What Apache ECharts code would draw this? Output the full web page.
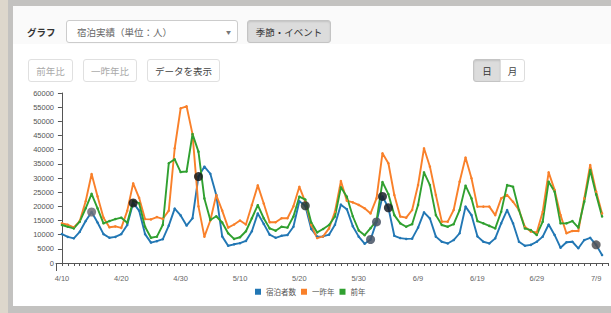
<!DOCTYPE html>
<html lang="ja">
<head>
<meta charset="utf-8">
<script src="https://cdn.jsdelivr.net/npm/echarts@6/dist/echarts.min.js"></script>
<style>
  body { margin: 0; width: 611px; height: 313px; overflow: hidden; position: relative;
         background: #ddd7cc; font-family: "Noto Sans CJK JP", sans-serif; }
  .frame { position: absolute; left: 8px; top: 0; right: 0; bottom: 0; background: #c3c2c0; }
  .panel { position: absolute; left: 13px; top: 6px; right: 0; bottom: 7px; background: #fff; }
  .toolbar { position: absolute; left: 13px; top: 6px; right: 0; height: 38px; background: #fafafa; }
  .ui { position: absolute; box-sizing: border-box; display: flex; align-items: center;
        justify-content: center; font-size: 9.5px; border: 1px solid #e0e0e0; border-radius: 3px;
        background: #fff; color: #444; white-space: nowrap; }
  .label { position: absolute; font-size: 9.5px; font-weight: bold; color: #333; }
  .pressed { background: #dcdcdc; border-color: #c4c4c4; box-shadow: inset 0 1px 2px rgba(0,0,0,0.12); }
  .off { color: #aaa; }
  #chart { position: absolute; left: 0; top: 0; width: 611px; height: 313px; }
</style>
</head>
<body>
<div class="frame"></div>
<div class="panel"></div>
<div class="toolbar"></div>

<div class="label" style="left:27px; top:25px;">グラフ</div>
<div class="ui" style="left:66px; top:20px; width:172px; height:23px; justify-content:space-between; padding:0 6px 0 10px; border-color:#ccc; color:#666;">
  <span>宿泊実績（単位：人）</span><span style="font-size:5px; color:#777;">▼</span>
</div>
<div class="ui pressed" style="left:247px; top:20px; width:84px; height:23px; color:#333;">季節・イベント</div>

<div class="ui off" style="left:28px; top:59px; width:45px; height:23px;">前年比</div>
<div class="ui off" style="left:83px; top:59px; width:54px; height:23px;">一昨年比</div>
<div class="ui" style="left:147px; top:59px; width:73px; height:23px;">データを表示</div>
<div class="ui pressed" style="left:473px; top:59px; width:28px; height:23px; border-radius:3px 0 0 3px; color:#333;">日</div>
<div class="ui" style="left:500px; top:59px; width:25px; height:23px; border-radius:0 3px 3px 0; border-color:#ddd;">月</div>

<div id="chart"></div>

<script>
// 4/10 - 7/10, one point per day
const dates = [
  '4/10','4/11','4/12','4/13','4/14','4/15','4/16','4/17','4/18','4/19','4/20','4/21','4/22','4/23','4/24','4/25','4/26','4/27','4/28','4/29','4/30',
  '5/1','5/2','5/3','5/4','5/5','5/6','5/7','5/8','5/9','5/10','5/11','5/12','5/13','5/14','5/15','5/16','5/17','5/18','5/19','5/20',
  '5/21','5/22','5/23','5/24','5/25','5/26','5/27','5/28','5/29','5/30','5/31',
  '6/1','6/2','6/3','6/4','6/5','6/6','6/7','6/8','6/9','6/10','6/11','6/12','6/13','6/14','6/15','6/16','6/17','6/18','6/19','6/20',
  '6/21','6/22','6/23','6/24','6/25','6/26','6/27','6/28','6/29','6/30',
  '7/1','7/2','7/3','7/4','7/5','7/6','7/7','7/8','7/9','7/10'
];

// 宿泊者数
const stay = [
  10200, 9200, 8700, 11000, 14800, 18000, 14300, 10200, 8900, 9200,
  10200, 13400, 21200, 18500, 10200, 7200, 7700, 8400, 13200, 19200,
  16800, 13200, 15800, 30500, 34000, 31500, 24000, 9400, 6100, 6600,
  7000, 7800, 11200, 17500, 13800, 10000, 8900, 9600, 9900, 12800,
  21800, 20200, 12000, 9300, 9400, 10000, 13500, 20600, 19000, 13000,
  9300, 6800, 8300, 14500, 23500, 19500, 9600, 8800, 8500, 8600,
  12500, 17900, 15700, 9300, 7500, 6900, 8100, 10500, 19900, 16900,
  9400, 7500, 6900, 8700, 14000, 18700, 14000, 7500, 6100, 6400,
  7500, 9300, 13600, 9900, 5400, 7300, 7500, 5200, 8100, 8900,
  6400, 2800
];

// 一昨年
const twoYearsAgo = [
  14000, 13500, 12600, 14800, 21800, 31400, 23500, 16000, 12600, 12900,
  12400, 18400, 28100, 23000, 15500, 15400, 16200, 15600, 18500, 40500,
  54600, 55300, 45500, 20000, 9300, 15000, 24000, 18500, 12500, 13600,
  15000, 13600, 20500, 27400, 21000, 14400, 14400, 15800, 15800, 20000,
  26900, 21600, 13400, 8800, 9400, 12200, 18100, 28900, 22000, 21400,
  20500, 19300, 17500, 22800, 38700, 35200, 24000, 16400, 16000, 18700,
  27500, 40500, 34000, 24000, 14600, 14600, 18700, 28700, 37200, 29900,
  19900, 19900, 19900, 16900, 22800, 24000, 21600, 18700, 12800, 11100,
  10800, 18100, 32000, 25800, 16900, 10500, 11300, 11300, 22800, 34600,
  25200, 17500
];

// 前年
const lastYear = [
  13400, 12800, 12200, 14600, 19300, 24400, 19300, 14000, 14800, 15500,
  16000, 14200, 21900, 21100, 12800, 8900, 9300, 13500, 35200, 36600,
  32100, 32300, 45500, 39300, 22800, 15200, 16500, 14300, 10500, 8500,
  9100, 11200, 15800, 20400, 15800, 12200, 11400, 12800, 12500, 16400,
  23400, 22400, 14300, 10800, 12000, 13400, 16400, 26700, 23400, 16500,
  11500, 9800, 12300, 14900, 28600, 24300, 16900, 14000, 12800, 13700,
  20500, 32000, 27500, 16900, 13400, 12800, 13700, 18700, 27300, 22800,
  14800, 14000, 13100, 12200, 18100, 27500, 26900, 18700, 12200, 11600,
  9900, 14600, 28700, 25200, 14000, 14000, 14800, 12500, 21600, 32800,
  24200, 16400
];

// days with a season / event marker (drawn on 宿泊者数)
const eventDays = [5, 12, 23, 41, 52, 53, 54, 55, 90];
const eventColors = ['#6c6c76', '#1a1a1a', '#1a1a1a', '#2e3a34', '#465264', '#465264', '#1a2029', '#1a2029', '#505054'];

const numFont = '"Liberation Sans", Arial, sans-serif';
const jpFont = '"Noto Sans CJK JP", sans-serif';

const chart = echarts.init(document.getElementById('chart'), null, { renderer: 'svg' });

function lineSeries(name, values, color) {
  return {
    name: name,
    type: 'line',
    data: values.map((v, i) => [i, v]),
    symbol: 'circle',
    symbolSize: 2.5,
    showSymbol: true,
    lineStyle: { width: 1.9, color: color },
    itemStyle: { color: color },
    emphasis: { disabled: true }
  };
}

const option = {
  animation: false,
  grid: { left: 56, right: 1, top: 93, bottom: 50 },
  xAxis: {
    type: 'value',
    min: -1,
    max: 92,
    interval: 1,
    offset: 8,
    axisLine: { lineStyle: { color: '#555' } },
    axisTick: { length: 3, lineStyle: { color: '#555' } },
    axisLabel: {
      formatter: v => (v >= 0 && v % 10 === 0 && dates[v]) ? dates[v] : '',
      fontSize: 7.5, color: '#666', margin: 3, fontFamily: numFont
    },
    splitLine: { show: false }
  },
  yAxis: {
    type: 'value',
    min: 0,
    max: 60000,
    interval: 5000,
    axisLine: { show: true, lineStyle: { color: '#555' } },
    axisTick: { show: true, length: 4, lineStyle: { color: '#555' } },
    axisLabel: { formatter: v => String(v), fontSize: 7.5, color: '#555', margin: 2, fontFamily: numFont },
    splitLine: { show: false }
  },
  legend: {
    data: ['宿泊者数', '一昨年', '前年'],
    left: 255,
    top: 288,
    padding: 0,
    icon: 'rect',
    itemWidth: 6,
    itemHeight: 6,
    itemGap: 5,
    textStyle: { fontSize: 7.5, color: '#555', fontFamily: jpFont }
  },
  // the y axis line runs down to the offset x axis
  graphic: [{
    type: 'line',
    shape: { x1: 56.5, y1: 263, x2: 56.5, y2: 271 },
    style: { stroke: '#555', lineWidth: 1 },
    silent: true
  }],
  series: [
    lineSeries('宿泊者数', stay, '#2277b4'),
    lineSeries('一昨年', twoYearsAgo, '#f9802a'),
    lineSeries('前年', lastYear, '#30a030'),
    {
      name: 'イベント',
      type: 'scatter',
      symbolSize: 9,
      z: 5,
      data: eventDays.map((d, k) => ({
        value: [d, stay[d]],
        itemStyle: { color: eventColors[k], opacity: 0.85 }
      }))
    }
  ]
};

chart.setOption(option);
</script>
</body>
</html>
